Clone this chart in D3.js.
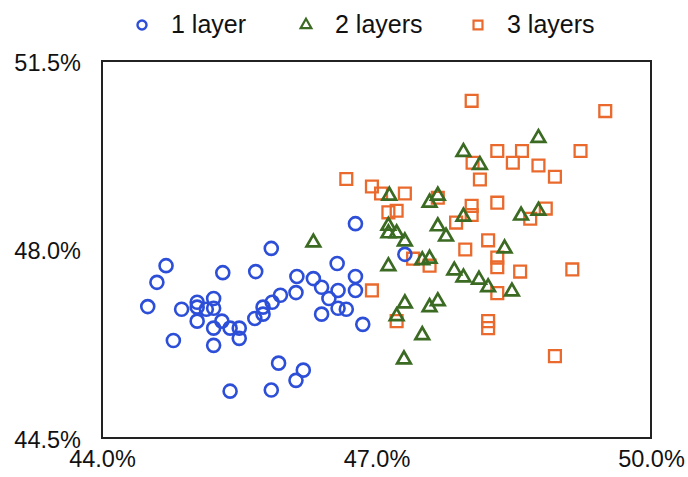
<!DOCTYPE html>
<html>
<head>
<meta charset="utf-8">
<script src="https://cdn.jsdelivr.net/npm/d3@7"></script>
<style>
  body { margin: 0; background: #fff; }
  text { font-family: "Liberation Sans", Arial, Helvetica, sans-serif; fill: #111; }
</style>
</head>
<body>
<div id="place"></div>
<script>
// values, [x %, y %]
const oneLayer = [
  [44.70, 47.70], [44.60, 47.39], [44.50, 46.94], [44.87, 46.89], [45.04, 47.02],
  [45.04, 46.93], [45.22, 47.09], [45.22, 46.91], [45.14, 46.89], [45.04, 46.67],
  [45.32, 47.57], [45.68, 47.59], [45.85, 48.02], [45.31, 46.67], [45.22, 46.54],
  [45.40, 46.54], [45.50, 46.54], [45.50, 46.35], [44.78, 46.31], [45.22, 46.22],
  [45.67, 46.72], [45.76, 46.80], [45.76, 46.93], [45.86, 47.02], [45.95, 47.15],
  [45.93, 45.89], [45.40, 45.37], [45.85, 45.39], [46.20, 45.76], [46.12, 45.57],
  [46.77, 48.48], [46.57, 47.74], [46.13, 47.50], [46.31, 47.46], [46.77, 47.50],
  [46.40, 47.30], [46.58, 47.24], [46.77, 47.24], [46.12, 47.20], [46.48, 47.09],
  [46.40, 46.80], [46.58, 46.91], [46.67, 46.89], [46.85, 46.61], [47.31, 47.91]
];
const twoLayers = [
  [46.31, 48.13], [47.14, 49.00], [47.67, 49.00], [47.58, 48.87], [47.95, 49.81],
  [48.13, 49.57], [47.95, 48.61], [47.13, 48.44], [47.13, 48.30], [47.22, 48.30],
  [47.31, 48.15], [47.67, 48.43], [47.76, 48.24], [47.13, 47.69], [47.50, 47.80],
  [47.58, 47.83], [47.85, 47.61], [47.95, 47.48], [48.12, 47.44], [48.22, 47.30],
  [48.48, 47.22], [48.40, 48.02], [47.31, 47.00], [47.22, 46.76], [47.58, 46.93],
  [47.67, 47.04], [47.50, 46.41], [47.30, 45.96], [48.77, 50.07], [48.58, 48.63],
  [48.77, 48.72]
];
const threeLayers = [
  [48.04, 50.76], [49.50, 50.57], [46.67, 49.31], [46.95, 49.17], [47.05, 49.04],
  [47.31, 49.04], [47.22, 48.72], [47.13, 48.69], [47.67, 48.96], [48.05, 49.61],
  [48.13, 49.30], [48.04, 48.81], [47.87, 48.50], [48.32, 49.83], [48.59, 49.83],
  [48.49, 49.61], [48.77, 49.56], [48.95, 49.35], [49.23, 49.83], [48.32, 48.87],
  [48.85, 48.76], [48.68, 48.57], [48.04, 48.64], [48.22, 48.17], [47.97, 48.00],
  [48.32, 47.85], [48.32, 47.67], [48.57, 47.59], [49.14, 47.63], [48.32, 47.19],
  [48.22, 46.67], [48.22, 46.54], [48.95, 46.02], [47.40, 47.83], [47.58, 47.70],
  [46.95, 47.24], [47.22, 46.67]
];
const xTicks = [44, 47, 50];
const yTicks = [44.5, 48, 51.5];
const seriesNames = ["1 layer", "2 layers", "3 layers"];

const W = 688, H = 477;
const margin = { top: 61, right: 37, bottom: 39, left: 102 };
const width = W - margin.left - margin.right,
      height = H - margin.top - margin.bottom;

const svg = d3.select("#place").append("svg")
  .attr("width", W).attr("height", H);

const g = svg.append("g")
  .attr("transform", "translate(" + margin.left + "," + margin.top + ")");

const x = d3.scaleLinear().domain([44, 50]).range([0, width]);
const y = d3.scaleLinear().domain([44.5, 51.5]).range([height, 0]);

// frame
g.append("rect")
  .attr("width", width).attr("height", height)
  .attr("fill", "none").attr("stroke", "#222").attr("stroke-width", 2);

// axes (labels only, no tick lines)
const xAxis = g.append("g")
  .attr("transform", "translate(0," + height + ")")
  .call(d3.axisBottom(x).tickValues(xTicks).tickSize(0).tickPadding(12)
    .tickFormat(d => d.toFixed(1) + "%"));
const yAxis = g.append("g")
  .call(d3.axisLeft(y).tickValues(yTicks).tickSize(0).tickPadding(21)
    .tickFormat(d => d.toFixed(1) + "%"));
[xAxis, yAxis].forEach(a => {
  a.select(".domain").remove();
  a.selectAll("text").attr("font-size", 23.5).attr("fill", "#111")
    .style("font-family", "'Liberation Sans', Arial, sans-serif");
});
yAxis.selectAll("text").attr("dy", "0.4em");

const styles = [
  { data: oneLayer, color: "#2d4fd8", sym: null },
  { data: twoLayers, color: "#3b6a22", sym: d3.symbol().type(d3.symbolTriangle).size(80) },
  { data: threeLayers, color: "#ea6a2e", sym: d3.symbol().type(d3.symbolSquare).size(140) }
];

// draw 3 layers first, then 2, then 1 on top
[2, 1, 0].forEach(i => {
  const s = styles[i];
  const layer = g.append("g");
  if (i === 0) {
    layer.selectAll("circle").data(s.data).enter().append("circle")
      .attr("cx", d => x(d[0])).attr("cy", d => y(d[1])).attr("r", 6.5)
      .attr("fill", "none").attr("stroke", s.color).attr("stroke-width", 2.6);
  } else {
    layer.selectAll("path").data(s.data).enter().append("path")
      .attr("d", s.sym)
      .attr("transform", d => "translate(" + x(d[0]) + "," + y(d[1]) + ")")
      .attr("fill", "none").attr("stroke", s.color)
      .attr("stroke-width", i === 1 ? 2.7 : 2.3);
  }
});

// legend
const legendX = [142, 306, 478];
const legend = svg.append("g");
seriesNames.forEach((name, i) => {
  const s = styles[i];
  const lg = legend.append("g").attr("transform", "translate(" + legendX[i] + ",25)");
  if (i === 0) {
    lg.append("circle").attr("r", 4.5).attr("fill", "none")
      .attr("stroke", s.color).attr("stroke-width", 2.4);
  } else {
    lg.append("path")
      .attr("d", d3.symbol().type(i === 1 ? d3.symbolTriangle : d3.symbolSquare).size(i === 1 ? 50 : 80))
      .attr("fill", "none").attr("stroke", s.color).attr("stroke-width", 2.2);
  }
  lg.append("text").attr("x", 29).attr("y", 8)
    .attr("font-size", 25).text(name);
});
</script>
</body>
</html>
